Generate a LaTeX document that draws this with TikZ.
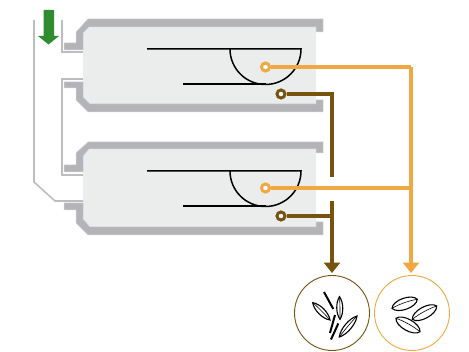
\documentclass[tikz,border=0pt]{standalone}
\usetikzlibrary{calc,arrows.meta}
\definecolor{orangeC}{HTML}{F0A843}
\definecolor{brownC}{HTML}{76530F}
\definecolor{bandC}{HTML}{B4B4B7}
\definecolor{edgeC}{HTML}{D2D2E2}
\definecolor{fillC}{HTML}{EBECEC}
\definecolor{greenC}{HTML}{2F8C30}
\definecolor{pipeC}{HTML}{BDBDBD}
\tikzset{
  band/.style={fill=bandC,draw=edgeC,line width=.5pt},
  chamber/.style={fill=fillC,draw=none},
  pipe/.style={draw=pipeC,line width=1.6pt},
  blackline/.style={draw=black,line width=1.5pt},
  orangeline/.style={draw=orangeC,line width=3.2pt},
  brownline/.style={draw=brownC,line width=3.2pt},
  orangetap/.style={circle,draw=orangeC,fill=white,line width=3pt,inner sep=0pt,minimum size=8pt},
  browntap/.style={circle,draw=brownC,fill=white,line width=3pt,inner sep=0pt,minimum size=8pt},
  bin/.style={circle,fill=white,line width=.9pt,inner sep=0pt,minimum size=75pt},
  orangearrow/.style={orangeline,-{Triangle[width=16pt,length=10.5pt]},orangeC,shorten >=2pt},
  brownarrow/.style={brownline,-{Triangle[width=16pt,length=10.5pt]},brownC,shorten >=2pt},
  seedbar/.style={draw=black,line width=2pt},
  seedline/.style={draw=black,line width=1.1pt}
}
% seed: end points, control position, half-width control, midline offset
\newcommand{\seedlens}[5]{%
  \draw[seedline,fill=white] (#1) .. controls ($(#1)!#3!(#2)!#4!90:(#2)$) and ($(#2)!#3!(#1)!#4!-90:(#1)$) .. (#2)
     .. controls ($(#2)!#3!(#1)!#4!90:(#1)$) and ($(#1)!#3!(#2)!#4!-90:(#2)$) .. cycle;
  \draw[seedline,line width=.6pt] (#1) .. controls ($(#1)!.3!(#2)!#5!90:(#2)$) and ($(#1)!.7!(#2)!#5!90:(#2)$) .. (#2);
}
\begin{document}
\begin{tikzpicture}[x=1pt,y=-1pt]
\useasboundingbox (0,0) rectangle (469,352);
% upper chamber
\path[chamber] (83,50) -- (83,33) -- (89,27) -- (316,27) -- (316,104) -- (90,104) -- (83,97) -- (83,79) -- cycle;
\path[band] (64,50) -- (64,43) -- (76,43) -- (76,32) -- (88,19) -- (323,19) -- (323,32) -- (316,32) -- (316,27) -- (89,27) -- (83,33) -- (83,50) -- cycle;
\path[band] (64,82) -- (83,82) -- (83,97) -- (90,104) -- (316,104) -- (316,100) -- (323,100) -- (323,112) -- (88,112) -- (76,100) -- (76,88) -- (64,88) -- cycle;
% lower chamber
\path[chamber] (83,172) -- (83,156) -- (89,149) -- (316,149) -- (316,227) -- (90,227) -- (83,219) -- (83,203) -- cycle;
\path[band] (64,172) -- (64,165) -- (76,165) -- (76,153) -- (88,142) -- (323,142) -- (323,153) -- (316,153) -- (316,149) -- (89,149) -- (83,156) -- (83,172) -- cycle;
\path[band] (64,203) -- (83,203) -- (83,219) -- (90,227) -- (316,227) -- (316,222) -- (323,222) -- (323,235) -- (88,235) -- (76,223) -- (76,210) -- (64,210) -- cycle;
% grey feed lines
\coordinate (p1) at (62,20); \coordinate (p1a) at (62,52); \coordinate (p1b) at (83,52);
\coordinate (p2a) at (83,79); \coordinate (p2b) at (62,79); \coordinate (p2c) at (62,175); \coordinate (p2d) at (83,175);
\coordinate (p3) at (34,20); \coordinate (p3a) at (34,182); \coordinate (p3b) at (55,201); \coordinate (p3c) at (83,201);
\draw[pipe] (p1) -- (p1a) -- (p1b);
\draw[pipe] (p2a) -- (p2b) -- (p2c) -- (p2d);
\draw[pipe] (p3) -- (p3a) -- (p3b) -- (p3c);
% green arrow
\fill[greenC] (43.5,10) -- (54,10) -- (54,36) -- (59,36) -- (48.5,44.5) -- (38,36) -- (43.5,36) -- cycle;
% bins
\node[bin,draw=brownC] (binB) at (332,313) {};
\node[bin,draw=orangeC] (binO) at (412,313) {};
% cyclones
\draw[blackline] (147,49) -- (301,49) arc[start angle=0,end angle=180,radius=35.5];
\draw[blackline] (183,84) -- (265.5,84);
\draw[blackline] (147,171) -- (301,171) arc[start angle=0,end angle=180,radius=35.5];
\draw[blackline] (183,206) -- (265.5,206);
% taps and connectors
\coordinate (oj1) at (411,67); \coordinate (oj2) at (411,188);
\coordinate (bj1) at (332,94); \coordinate (bj1e) at (332,177);
\coordinate (bj2s) at (332,201); \coordinate (bj2) at (332,216);
\node[orangetap] (o1) at (265.5,67) {};
\node[orangetap] (o2) at (265.5,188) {};
\node[browntap] (b1) at (281,94) {};
\node[browntap] (b2) at (281,216) {};
\draw[orangeline] (o1) -- (oj1);
\draw[orangeline] (o2) -- (oj2);
\draw[orangearrow] (oj1) -- (oj1 |- binO.north);
\draw[brownline] (b1) -- (bj1) -- (bj1e);
\draw[brownline] (b2) -- (bj2);
\draw[brownarrow] (bj2s) -- (binB.north);
% left seeds
\seedlens{312.7,302.7}{330,320}{.25}{4.5pt}{.5pt}
\seedlens{339.5,296.7}{340,319.3}{.25}{4pt}{.3pt}
\seedlens{339.3,337}{357,316}{.25}{4.5pt}{.5pt}
\draw[seedbar] (324,292) -- (333.3,309);
\draw[seedbar] (335,315) -- (330,333);
\draw[seedbar] (338.3,323.5) -- (331,339.5);
% right seeds
\seedlens{392,308.3}{417.3,299.3}{.12}{7.5pt}{1.5pt}
\seedlens{412.3,319.3}{436.7,306}{.12}{7.5pt}{1.5pt}
\seedlens{396,318.3}{420,331.7}{.12}{7.5pt}{1.5pt}
\end{tikzpicture}
\end{document}
